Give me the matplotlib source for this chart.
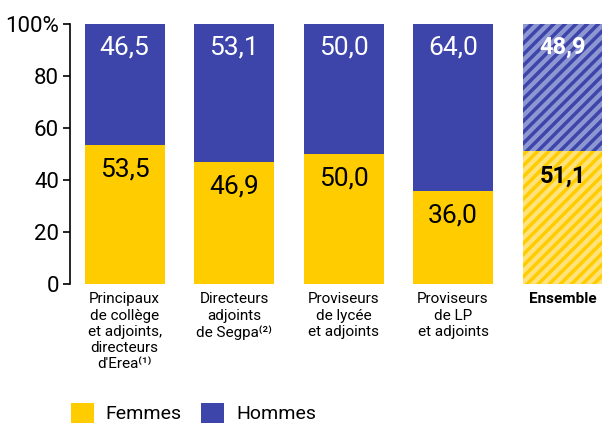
import matplotlib
matplotlib.use("Agg")
import matplotlib.pyplot as plt
from matplotlib.patches import Patch
import numpy as np

categories = ["Principaux\nde collège\net adjoints,\ndirecteurs\nd'Erea⁽¹⁾",
              "Directeurs\nadjoints\nde Segpa⁽²⁾",
              "Proviseurs\nde lycée\net adjoints",
              "Proviseurs\nde LP\net adjoints",
              "Ensemble"]
femmes = [53.5, 46.9, 50.0, 36.0, 51.1]
hommes = [46.5, 53.1, 50.0, 64.0, 48.9]
yticks = [0, 20, 40, 60, 80, 100]
ytick_labels = ["0", "20", "40", "60", "80", "100%"]

plt.rcParams['font.family'] = ['Roboto', 'DejaVu Sans']
plt.rcParams['hatch.linewidth'] = 2.5

YELLOW = "#FFCC00"
BLUE = "#3D45AA"
LIGHT_YELLOW = "#FFE27A"
LIGHT_BLUE = "#8D97D2"

fig = plt.figure(figsize=(6.03, 4.24), dpi=100)
ax = fig.add_axes([0.116, 0.330, 0.884, 0.613])

x = np.arange(len(categories))
w = 0.73
n = len(categories)
for i in range(n):
    if i < n - 1:
        ax.bar(x[i], femmes[i], w, color=YELLOW, linewidth=0)
        ax.bar(x[i], hommes[i], w, bottom=femmes[i], color=BLUE, linewidth=0)
    else:
        ax.bar(x[i], femmes[i], w, facecolor=LIGHT_YELLOW, edgecolor=YELLOW,
               hatch='///', linewidth=0)
        ax.bar(x[i], hommes[i], w, bottom=femmes[i], facecolor=LIGHT_BLUE,
               edgecolor=BLUE, hatch='///', linewidth=0)
    bold = 'bold' if i == n - 1 else 'normal'
    fs = 17 if i == n - 1 else 19
    ax.text(x[i], 91, f"{hommes[i]:.1f}".replace('.', ','), ha='center', va='center',
            color='white', fontsize=fs, fontweight=bold)
    ax.text(x[i], femmes[i] - 9.5, f"{femmes[i]:.1f}".replace('.', ','), ha='center',
            va='center', color='black', fontsize=fs, fontweight=bold)
    ax.text(x[i], -3.2, categories[i], ha='center', va='top', fontsize=11,
            fontweight=bold, linespacing=1.2)

ax.set_xlim(-0.5, 4.37)
ax.set_ylim(0, 100)
ax.set_yticks(yticks)
ax.set_yticklabels(ytick_labels, fontsize=16)
ax.set_xticks([])
for s in ['top', 'right', 'bottom']:
    ax.spines[s].set_visible(False)
ax.spines['left'].set_linewidth(1.2)
ax.tick_params(axis='y', length=5, width=1.2, pad=3)

handles = [Patch(facecolor=YELLOW, label="Femmes"), Patch(facecolor=BLUE, label="Hommes")]
fig.legend(handles=handles, loc='lower left', bbox_to_anchor=(0.088, -0.04), ncol=2,
           frameon=False, fontsize=14, handlelength=1.2, handleheight=1.2,
           columnspacing=1.0, handletextpad=0.6)

fig.savefig("out.png", dpi=100)
